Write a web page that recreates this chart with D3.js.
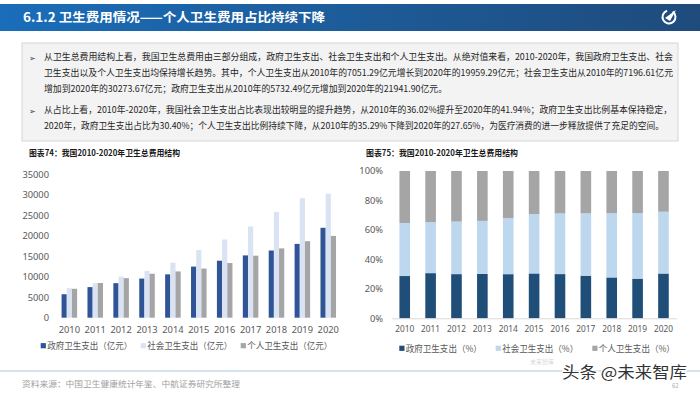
<!DOCTYPE html>
<html>
<head>
<meta charset="utf-8">
<script src="https://cdn.jsdelivr.net/npm/d3@7"></script>
<style>
  body { margin: 0; background: #fff; }
  svg { display: block; font-family: "Noto Sans CJK SC", "Noto Sans", sans-serif; }
</style>
</head>
<body>
<div id="page"></div>
<script>
// data
var years = ["2010","2011","2012","2013","2014","2015","2016","2017","2018","2019","2020"];
var govSpend      = [5732.49, 7464.18, 8431.98, 9545.81, 10579.23, 12475.28, 13910.31, 15205.87, 16399.13, 18016.95, 21941.90];
var socialSpend   = [7196.61, 8416.45, 10030.70, 11393.79, 13437.75, 16506.71, 19096.68, 22258.81, 25810.78, 29150.57, 30273.67];
var personalSpend = [7051.29, 8465.28, 9656.32, 10729.34, 11295.41, 11992.65, 13337.90, 15133.60, 16911.99, 18673.87, 19959.29];
var govShare      = [28.69, 30.66, 29.99, 30.14, 29.96, 30.45, 30.01, 28.91, 27.74, 26.73, 30.40];
var socialShare   = [36.02, 34.57, 35.67, 35.98, 38.05, 40.29, 41.21, 42.32, 43.66, 44.27, 41.94];
var personalShare = [35.29, 34.77, 34.34, 33.88, 31.99, 29.27, 28.78, 28.77, 28.61, 28.36, 27.65];
var leftTicks  = [0, 5000, 10000, 15000, 20000, 25000, 30000, 35000];
var rightTicks = [0, 0.2, 0.4, 0.6, 0.8, 1];
var leftSeries  = ["政府卫生支出（亿元）", "社会卫生支出（亿元）", "个人卫生支出（亿元）"];
var rightSeries = ["政府卫生支出（%）", "社会卫生支出（%）", "个人卫生支出（%）"];

var pageTitle = "6.1.2 卫生费用情况——个人卫生费用占比持续下降";
var bulletLines = [
  "从卫生总费用结构上看，我国卫生总费用由三部分组成，政府卫生支出、社会卫生支出和个人卫生支出。从绝对值来看，2010-2020年，我国政府卫生支出、社会",
  "卫生支出以及个人卫生支出均保持增长趋势。其中，个人卫生支出从2010年的7051.29亿元增长到2020年的19959.29亿元；社会卫生支出从2010年的7196.61亿元",
  "增加到2020年的30273.67亿元；政府卫生支出从2010年的5732.49亿元增加到2020年的21941.90亿元。",
  "从占比上看，2010年-2020年，我国社会卫生支出占比表现出较明显的提升趋势，从2010年的36.02%提升至2020年的41.94%；政府卫生支出比例基本保持稳定，",
  "2020年，政府卫生支出占比为30.40%；个人卫生支出比例持续下降，从2010年的35.29%下降到2020年的27.65%，为医疗消费的进一步释放提供了充足的空间。"
];
var lineY   = [57, 73, 89, 110, 126];
var lineEnd = [673, 673, 447, 672, 664];

var svg = d3.select("#page").append("svg")
    .attr("width", 700)
    .attr("height", 394);

// header bar
var grad = svg.append("defs").append("linearGradient")
    .attr("id", "hdr").attr("x1", "0").attr("x2", "1");
grad.append("stop").attr("offset", "0").attr("stop-color", "#1a6dba");
grad.append("stop").attr("offset", "0.55").attr("stop-color", "#1d5a96");
grad.append("stop").attr("offset", "1").attr("stop-color", "#1f4b7c");

svg.append("rect")
    .attr("x", 0).attr("y", 4)
    .attr("width", 700).attr("height", 27)
    .attr("fill", "url(#hdr)");

svg.append("text")
    .attr("x", 23).attr("y", 22)
    .attr("fill", "#fff")
    .attr("font-size", "12.5px")
    .attr("font-weight", "bold")
    .attr("textLength", 302)
    .attr("lengthAdjust", "spacingAndGlyphs")
    .text(pageTitle);

// logo, roughly
var logo = svg.append("g").attr("transform", "translate(669,17)");
logo.append("path")
    .attr("d", d3.arc()({ innerRadius: 5.5, outerRadius: 7.5, startAngle: 0.6, endAngle: 2 * Math.PI - 0.3 }))
    .attr("fill", "#fff");
logo.append("path")
    .attr("d", "M-4,1 L7,-7 L1,4 Z")
    .attr("fill", "#fff");

// text box
svg.append("rect")
    .attr("x", 22).attr("y", 43)
    .attr("width", 656).attr("height", 98)
    .attr("fill", "#f3f3f3")
    .attr("stroke", "#d6d6d6")
    .attr("stroke-width", 1);

svg.selectAll(".bullet")
    .data([lineY[0], lineY[3]])
    .enter().append("text")
    .attr("class", "bullet")
    .attr("x", 29).attr("y", function(d) { return d + 3.5; })
    .attr("font-family", "DejaVu Sans")
    .attr("font-size", "8px")
    .attr("fill", "#404040")
    .text("➢");

svg.selectAll(".para")
    .data(bulletLines)
    .enter().append("text")
    .attr("class", "para")
    .attr("x", 44)
    .attr("y", function(d, i) { return lineY[i] + 3.3; })
    .attr("font-size", "9px")
    .attr("fill", "#262626")
    .attr("textLength", function(d, i) { return lineEnd[i] - 44; })
    .attr("lengthAdjust", "spacingAndGlyphs")
    .text(function(d) { return d; });

// chart titles
svg.append("text")
    .attr("x", 29).attr("y", 156)
    .attr("font-size", "8.5px").attr("font-weight", "bold").attr("fill", "#1a1a1a")
    .attr("textLength", 151).attr("lengthAdjust", "spacingAndGlyphs")
    .text("图表74：我国2010-2020年卫生总费用结构");
svg.append("text")
    .attr("x", 366).attr("y", 156)
    .attr("font-size", "8.5px").attr("font-weight", "bold").attr("fill", "#1a1a1a")
    .attr("textLength", 152).attr("lengthAdjust", "spacingAndGlyphs")
    .text("图表75：我国2010-2020年卫生总费用结构");

// ---------- left chart: grouped bars ----------
var leftColors = ["#2f5597", "#dae3f3", "#a5a5a5"];
var leftVals = [govSpend, socialSpend, personalSpend];

var x0 = d3.scaleBand()
    .domain(years)
    .range([56.4, 341.2])
    .paddingInner(0.4)
    .paddingOuter(0.2);

var x1 = d3.scaleBand()
    .domain([0, 1, 2])
    .range([0, x0.bandwidth()]);

var yL = d3.scaleLinear()
    .domain([0, 35000])
    .range([317.7, 174.3]);

var gL = svg.append("g");

var yAxisL = gL.append("g")
    .attr("transform", "translate(49,0)")
    .call(d3.axisLeft(yL).tickValues(leftTicks).tickSize(0).tickPadding(0).tickFormat(d3.format("d")));
yAxisL.select(".domain").remove();
yAxisL.selectAll("text")
    .attr("font-size", "9.3px")
    .attr("fill", "#595959")
    .attr("font-family", "Noto Sans, sans-serif");

var xAxisL = gL.append("g")
    .attr("transform", "translate(0,317.7)")
    .call(d3.axisBottom(x0).tickSize(0).tickPadding(9));
xAxisL.select(".domain").remove();
xAxisL.selectAll("text")
    .attr("font-size", "9.3px")
    .attr("fill", "#595959")
    .attr("font-family", "Noto Sans, sans-serif");

var groups = gL.selectAll(".yr")
    .data(years)
    .enter().append("g")
    .attr("class", "yr")
    .attr("transform", function(d) { return "translate(" + x0(d) + ",0)"; });

groups.selectAll("rect")
    .data(function(d, i) { return leftVals.map(function(s, k) { return { k: k, v: s[i] }; }); })
    .enter().append("rect")
    .attr("x", function(d) { return x1(d.k); })
    .attr("width", x1.bandwidth())
    .attr("y", function(d) { return yL(d.v); })
    .attr("height", function(d) { return yL(0) - yL(d.v); })
    .attr("fill", function(d) { return leftColors[d.k]; });

// left legend
var legLX = [40.7, 140.7, 240.7];
var legL = gL.selectAll(".legL")
    .data(leftSeries)
    .enter().append("g")
    .attr("class", "legL")
    .attr("transform", function(d, i) { return "translate(" + legLX[i] + ",345.7)"; });
legL.append("rect")
    .attr("x", 0).attr("y", -2.6)
    .attr("width", 5.2).attr("height", 5.2)
    .attr("fill", function(d, i) { return leftColors[i]; });
legL.append("text")
    .attr("x", 6.5).attr("y", 3.2)
    .attr("font-size", "8.8px")
    .attr("fill", "#595959")
    .attr("textLength", 85)
    .attr("lengthAdjust", "spacingAndGlyphs")
    .text(function(d) { return d; });

// ---------- right chart: 100% stacked ----------
var rightColors = ["#1f4e79", "#bdd7ee", "#a5a5a5"];
var shareRows = years.map(function(y, i) {
  return { year: y, gov: govShare[i], social: socialShare[i], personal: personalShare[i] };
});
var stack = d3.stack()
    .keys(["gov", "social", "personal"])
    .offset(d3.stackOffsetExpand);
var stacked = stack(shareRows);

var xR = d3.scaleBand()
    .domain(years)
    .range([391.8, 676.4])
    .paddingInner(0.59)
    .paddingOuter(0.295);

var yR = d3.scaleLinear()
    .domain([0, 1])
    .range([318.3, 171]);

var gR = svg.append("g");

var yAxisR = gR.append("g")
    .attr("transform", "translate(383,0)")
    .call(d3.axisLeft(yR).tickValues(rightTicks).tickSize(0).tickPadding(0).tickFormat(d3.format(".0%")));
yAxisR.select(".domain").remove();
yAxisR.selectAll("text")
    .attr("font-size", "9.3px")
    .attr("fill", "#595959")
    .attr("font-family", "Noto Sans, sans-serif");

gR.selectAll(".layer")
    .data(stacked)
    .enter().append("g")
    .attr("class", "layer")
    .attr("fill", function(d, i) { return rightColors[i]; })
    .selectAll("rect")
    .data(function(d) { return d; })
    .enter().append("rect")
    .attr("x", function(d) { return xR(d.data.year); })
    .attr("width", xR.bandwidth())
    .attr("y", function(d) { return yR(d[1]); })
    .attr("height", function(d) { return yR(d[0]) - yR(d[1]); });

var xAxisR = gR.append("g")
    .attr("transform", "translate(0,318.3)")
    .call(d3.axisBottom(xR).tickSize(0).tickPadding(8).tickSizeOuter(0));
xAxisR.select(".domain").attr("stroke", "#d9d9d9");
xAxisR.selectAll("text")
    .attr("font-size", "8.3px")
    .attr("fill", "#595959")
    .attr("font-family", "Noto Sans, sans-serif");

// right legend
var legRX = [399.3, 495.7, 592.3];
var legR = gR.selectAll(".legR")
    .data(rightSeries)
    .enter().append("g")
    .attr("class", "legR")
    .attr("transform", function(d, i) { return "translate(" + legRX[i] + ",348.3)"; });
legR.append("rect")
    .attr("x", 0).attr("y", -2.6)
    .attr("width", 5.2).attr("height", 5.2)
    .attr("fill", function(d, i) { return rightColors[i]; });
legR.append("text")
    .attr("x", 6.5).attr("y", 3.2)
    .attr("font-size", "8.8px")
    .attr("fill", "#595959")
    .attr("textLength", 76)
    .attr("lengthAdjust", "spacingAndGlyphs")
    .text(function(d) { return d; });

// footer
svg.append("line")
    .attr("x1", 0).attr("x2", 700)
    .attr("y1", 371).attr("y2", 371)
    .attr("stroke", "#a9c6e3").attr("stroke-width", 1);

svg.append("text")
    .attr("x", 22).attr("y", 387)
    .attr("font-size", "8.3px")
    .attr("fill", "#a0a0a0")
    .attr("textLength", 218)
    .attr("lengthAdjust", "spacingAndGlyphs")
    .text("资料来源：中国卫生健康统计年鉴、中航证券研究所整理");

// watermark
svg.append("text")
    .attr("x", 530).attr("y", 364)
    .attr("font-size", "6px")
    .attr("fill", "#d8d8d8")
    .text("未来智库");
svg.append("text")
    .attr("x", 562).attr("y", 377.5)
    .attr("font-size", "15.5px")
    .attr("fill", "#333")
    .attr("stroke", "#fff").attr("stroke-width", 2.5).attr("paint-order", "stroke")
    .attr("textLength", 125)
    .attr("lengthAdjust", "spacingAndGlyphs")
    .text("头条 @未来智库");
svg.append("text")
    .attr("x", 672).attr("y", 388)
    .attr("font-size", "6px")
    .attr("fill", "#b0b0b0")
    .text("62");
</script>
</body>
</html>
